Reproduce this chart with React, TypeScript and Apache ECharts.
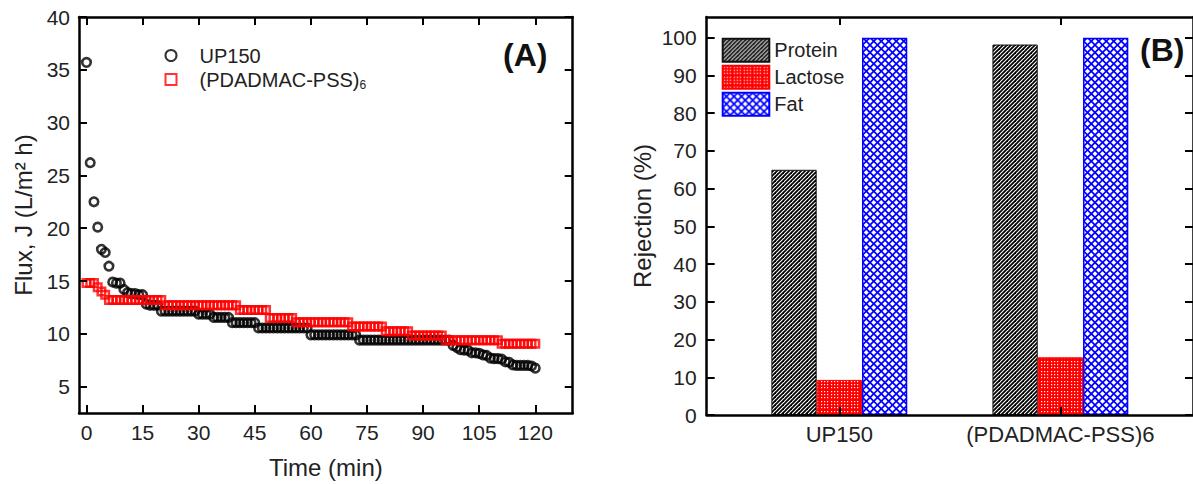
import React, { useEffect, useRef } from 'react';
import * as echarts from 'echarts';

// ---------- Panel (A): flux vs time ----------
const timeMin = [
  0, 1, 2, 3, 4, 5, 6, 7, 8, 9, 10, 11, 12, 13, 14, 15, 16, 17, 18, 19,
  20, 21, 22, 23, 24, 25, 26, 27, 28, 29, 30, 31, 32, 33, 34, 35, 36, 37, 38, 39,
  40, 41, 42, 43, 44, 45, 46, 47, 48, 49, 50, 51, 52, 53, 54, 55, 56, 57, 58, 59,
  60, 61, 62, 63, 64, 65, 66, 67, 68, 69, 70, 71, 72, 73, 74, 75, 76, 77, 78, 79,
  80, 81, 82, 83, 84, 85, 86, 87, 88, 89, 90, 91, 92, 93, 94, 95, 96, 97, 98, 99,
  100, 101, 102, 103, 104, 105, 106, 107, 108, 109, 110, 111, 112, 113, 114, 115, 116, 117, 118, 119,
  120,
];

const fluxUP150 = [
  35.7, 26.2, 22.5, 20.1, 18.0, 17.7, 16.4, 14.9, 14.8, 14.8,
  14.2, 13.9, 13.8, 13.8, 13.7, 13.7, 12.8, 12.7, 12.7, 12.7,
  12.15, 12.15, 12.15, 12.15, 12.15, 12.15, 12.15, 12.15, 12.15, 12.15,
  11.85, 11.85, 11.85, 11.85, 11.55, 11.55, 11.55, 11.55, 11.55, 11.05,
  11.05, 11.05, 11.05, 11.05, 11.05, 11.05, 10.55, 10.55, 10.55, 10.55,
  10.55, 10.55, 10.55, 10.55, 10.55, 10.55, 10.55, 10.55, 10.55, 10.55,
  9.9, 9.9, 9.9, 9.9, 9.9, 9.9, 9.9, 9.9, 9.9, 9.9,
  9.9, 9.9, 9.9, 9.4, 9.4, 9.4, 9.4, 9.4, 9.4, 9.4,
  9.4, 9.4, 9.4, 9.4, 9.4, 9.4, 9.4, 9.4, 9.4, 9.4,
  9.4, 9.4, 9.4, 9.4, 9.4, 9.4, 9.4, 9.4, 8.9, 8.7,
  8.5, 8.45, 8.45, 8.2, 8.2, 8.15, 8.0, 7.95, 7.7, 7.65,
  7.65, 7.6, 7.35, 7.3, 7.05, 7.0, 7.0, 7.0, 7.0, 6.95,
  6.75,
];

const fluxPDADMAC = [
  14.8, 14.8, 14.8, 14.4, 14.0, 13.7, 13.2, 13.2, 13.2, 13.2,
  13.2, 13.2, 13.2, 13.2, 13.2, 13.2, 13.2, 13.2, 13.2, 13.2,
  13.2, 12.7, 12.7, 12.7, 12.7, 12.7, 12.7, 12.7, 12.7, 12.7,
  12.7, 12.7, 12.7, 12.7, 12.7, 12.7, 12.7, 12.7, 12.7, 12.7,
  12.7, 12.25, 12.25, 12.25, 12.25, 12.25, 12.25, 12.25, 12.25, 11.5,
  11.5, 11.5, 11.5, 11.5, 11.5, 11.5, 11.1, 11.1, 11.1, 11.1,
  11.1, 11.1, 11.1, 11.1, 11.1, 11.1, 11.1, 11.1, 11.1, 11.1,
  11.1, 10.7, 10.7, 10.7, 10.7, 10.7, 10.7, 10.7, 10.7, 10.7,
  10.25, 10.25, 10.25, 10.25, 10.25, 10.25, 10.25, 9.85, 9.85, 9.85,
  9.85, 9.85, 9.85, 9.85, 9.85, 9.85, 9.4, 9.4, 9.4, 9.4,
  9.4, 9.4, 9.4, 9.4, 9.4, 9.4, 9.4, 9.4, 9.4, 9.4,
  9.4, 9.05, 9.05, 9.05, 9.05, 9.05, 9.05, 9.05, 9.05, 9.05,
  9.05,
];

const timeTicks = [0, 15, 30, 45, 60, 75, 90, 105, 120];
const fluxTicks = [5, 10, 15, 20, 25, 30, 35, 40];

// ---------- Panel (B): rejection ----------
const membranes = ['UP150', '(PDADMAC-PSS)6'];
const membranePos = [1, 2];
const proteinRej = [65, 98.2];
const lactoseRej = [9.3, 15.3];
const fatRej = [100, 100];
const rejTicks = [0, 10, 20, 30, 40, 50, 60, 70, 80, 90, 100];

const FONT = '"Liberation Sans", Arial, sans-serif';
const TXT = '#222';

function makeCanvas(size: number, draw: (ctx: CanvasRenderingContext2D) => void) {
  const c = document.createElement('canvas');
  c.width = size;
  c.height = size;
  const ctx = c.getContext('2d') as CanvasRenderingContext2D;
  draw(ctx);
  return c;
}

function patterns() {
  const prot = makeCanvas(8, (ctx) => {
    ctx.fillStyle = '#fff';
    ctx.fillRect(0, 0, 8, 8);
    ctx.strokeStyle = '#000';
    ctx.lineWidth = 1.8;
    for (let c = -16; c <= 32; c += 4) {
      ctx.beginPath();
      ctx.moveTo(c - 20, 20);
      ctx.lineTo(c + 20, -20);
      ctx.stroke();
    }
  });
  const lact = makeCanvas(10, (ctx) => {
    ctx.fillStyle = '#ff0000';
    ctx.fillRect(0, 0, 10, 10);
    ctx.fillStyle = '#fff';
    const offs = [1, 4, 7];
    offs.forEach((x) => offs.forEach((y) => ctx.fillRect(x, y, 1.2, 1.2)));
  });
  const fat = makeCanvas(15, (ctx) => {
    ctx.fillStyle = '#fff';
    ctx.fillRect(0, 0, 15, 15);
    ctx.strokeStyle = '#0000ff';
    ctx.lineWidth = 1.7;
    for (let c = -30; c <= 45; c += 7.5) {
      ctx.beginPath();
      ctx.moveTo(c - 30, 30);
      ctx.lineTo(c + 30, -30);
      ctx.stroke();
      ctx.beginPath();
      ctx.moveTo(c - 30, -30);
      ctx.lineTo(c + 30, 30);
      ctx.stroke();
    }
  });
  return {
    prot: { image: prot, repeat: 'repeat', imageWidth: 8, imageHeight: 8 },
    lact: { image: lact, repeat: 'repeat', imageWidth: 10, imageHeight: 10 },
    fat: { image: fat, repeat: 'repeat', imageWidth: 15, imageHeight: 15 },
  };
}

const axisLine = { show: true, onZero: false, lineStyle: { color: '#000', width: 2.5 } };
const tickStyle = { color: '#000', width: 2 };

function frameAxis(extra: any, ticks: number[], showLabels: boolean, labelExtra: any = {}) {
  return {
    type: 'value',
    axisLine,
    axisTick: { show: true, inside: true, length: 8, lineStyle: tickStyle, customValues: ticks },
    axisLabel: showLabels
      ? { show: true, customValues: ticks, fontSize: 21, color: TXT, fontFamily: FONT, ...labelExtra }
      : { show: false },
    splitLine: { show: false },
    z: 10,
    ...extra,
  };
}

export default function App() {
  const ref = useRef<HTMLDivElement>(null);

  useEffect(() => {
    if (!ref.current) return;
    const chart = echarts.init(ref.current, undefined, { renderer: 'svg' });
    const pat = patterns();

    const option: any = {
      animation: false,
      backgroundColor: '#fff',
      textStyle: { fontFamily: FONT },
      grid: [
        { left: 79, top: 17, width: 493.7, height: 397 },
        { left: 706.7, top: 17, width: 493.6, height: 398 },
      ],
      xAxis: [
        frameAxis(
          {
            gridIndex: 0, position: 'bottom', min: -2, max: 130,
            name: 'Time (min)', nameLocation: 'middle', nameGap: 42,
            nameTextStyle: { fontSize: 24, color: TXT, fontFamily: FONT },
          },
          timeTicks, true, { margin: 9 }
        ),
        frameAxis({ gridIndex: 0, position: 'top', min: -2, max: 130 }, timeTicks, false),
        frameAxis(
          { gridIndex: 1, position: 'bottom', min: 0.4, max: 2.6 },
          membranePos, true,
          { margin: 8, fontSize: 22, formatter: (v: number) => membranes[Math.round(v) - 1] }
        ),
        frameAxis({ gridIndex: 1, position: 'top', min: 0.4, max: 2.6 }, membranePos, false),
      ],
      yAxis: [
        frameAxis(
          {
            gridIndex: 0, position: 'left', min: 2.5, max: 40,
            name: 'Flux, J (L/m² h)', nameLocation: 'middle', nameGap: 44,
            nameTextStyle: { fontSize: 24, color: TXT, fontFamily: FONT },
          },
          fluxTicks, true, { margin: 9 }
        ),
        frameAxis({ gridIndex: 0, position: 'right', min: 2.5, max: 40 }, fluxTicks, false),
        frameAxis(
          {
            gridIndex: 1, position: 'left', min: 0, max: 105.5,
            name: 'Rejection (%)', nameLocation: 'middle', nameGap: 52,
            nameTextStyle: { fontSize: 24, color: TXT, fontFamily: FONT },
          },
          rejTicks, true, { margin: 10 }
        ),
        frameAxis({ gridIndex: 1, position: 'right', min: 0, max: 105.5 }, rejTicks, false),
      ],
      legend: [
        {
          data: ['UP150', '(PDADMAC-PSS)6'],
          orient: 'vertical',
          left: 159.5,
          top: 39.5,
          itemWidth: 11,
          itemHeight: 11,
          itemGap: 2,
          formatter: (n: string) => (n === '(PDADMAC-PSS)6' ? '(PDADMAC-PSS){sub|6}' : n),
          textStyle: {
            fontSize: 20,
            lineHeight: 22,
            color: TXT,
            fontFamily: FONT,
            padding: [0, 0, 0, 18],
            rich: {
              sub: { fontSize: 12, lineHeight: 4, verticalAlign: 'bottom', color: TXT, fontFamily: FONT },
            },
          },
        },
        {
          data: ['Protein', 'Lactose', 'Fat'],
          orient: 'vertical',
          left: 716.7,
          top: 32.7,
          icon: 'rect',
          itemWidth: 46.6,
          itemHeight: 23,
          itemGap: 2,
          textStyle: { fontSize: 20, lineHeight: 23, color: TXT, fontFamily: FONT },
        },
      ],
      graphic: [
        {
          type: 'text', left: 503, top: 39, z: 100,
          style: { text: '(A)', font: `bold 32px ${FONT}`, fill: '#111' },
        },
        {
          type: 'text', left: 1140, top: 34, z: 100,
          style: { text: '(B)', font: `bold 32px ${FONT}`, fill: '#111' },
        },
      ],
      series: [
        {
          name: 'UP150',
          type: 'scatter',
          xAxisIndex: 0,
          yAxisIndex: 0,
          symbol: 'circle',
          symbolSize: 8.5,
          itemStyle: { color: 'rgba(0,0,0,0)', borderColor: '#000', borderWidth: 2.6 },
          data: timeMin.map((t, i) => [t, fluxUP150[i]]),
        },
        {
          name: '(PDADMAC-PSS)6',
          type: 'scatter',
          xAxisIndex: 0,
          yAxisIndex: 0,
          symbol: 'rect',
          symbolSize: 7.5,
          itemStyle: { color: 'rgba(0,0,0,0)', borderColor: '#ff0000', borderWidth: 2.5 },
          data: timeMin.map((t, i) => [t, fluxPDADMAC[i]]),
        },
        {
          name: 'Protein',
          type: 'bar',
          xAxisIndex: 2,
          yAxisIndex: 2,
          barWidth: 45.3,
          barGap: '0%',
          itemStyle: { color: pat.prot, borderColor: '#111', borderWidth: 1 },
          data: membranePos.map((p, i) => [p, proteinRej[i]]),
        },
        {
          name: 'Lactose',
          type: 'bar',
          xAxisIndex: 2,
          yAxisIndex: 2,
          barWidth: 45.3,
          barGap: '0%',
          itemStyle: { color: pat.lact, borderColor: '#ff0000', borderWidth: 1 },
          data: membranePos.map((p, i) => [p, lactoseRej[i]]),
        },
        {
          name: 'Fat',
          type: 'bar',
          xAxisIndex: 2,
          yAxisIndex: 2,
          barWidth: 45.3,
          barGap: '0%',
          itemStyle: { color: pat.fat, borderColor: '#0000ff', borderWidth: 1.5 },
          data: membranePos.map((p, i) => [p, fatRej[i]]),
        },
      ],
    };

    chart.setOption(option);
    return () => chart.dispose();
  }, []);

  return (
    <div
      ref={ref}
      style={{ position: 'fixed', left: 0, top: 0, width: 1193, height: 484, background: '#fff' }}
    />
  );
}
